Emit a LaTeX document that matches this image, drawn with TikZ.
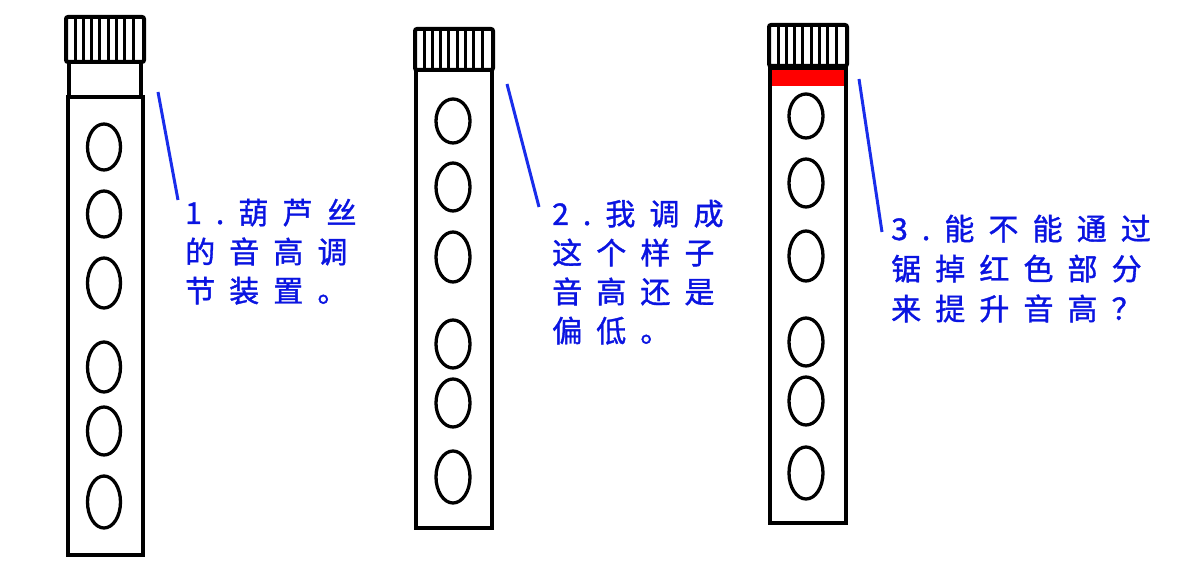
\documentclass[tikz,border=0pt]{standalone}
\usepackage{fontspec}
\newfontfamily\cjk[LetterSpace=47,FakeBold=1.2]{Noto Sans CJK SC}
\definecolor{txtblue}{RGB}{10,20,225}
\definecolor{lineblue}{RGB}{25,45,235}
\begin{document}
\begin{tikzpicture}[x=1pt,y=-1pt,
  outline/.style={line width=4pt,draw=black},
  capbox/.style={line width=4pt,draw=black,fill=white,rounded corners=2pt},
  stripe/.style={line width=3pt,draw=black},
  hole/.style={line width=3.3pt,draw=black},
  callout/.style={line width=3pt,draw=lineblue},
  label/.style={anchor=base west,inner sep=0pt,text=txtblue,font=\cjk\fontsize{30}{40}\selectfont}]
\useasboundingbox (0,0) rectangle (1200,569);
\fill[white] (0,0) rectangle (1200,569);

% ---------- tube 1 ----------
\draw[outline,fill=white] (68,97) rectangle (143,555);
\draw[outline,fill=white] (69,62) rectangle (141,97);
\draw[capbox] (66,17) rectangle (144,62);
\foreach \sx in {75,83.3,91.6,99.9,108.2,116.5,124.8,133.1} \draw[stripe] (\sx,19) -- (\sx,60);
\foreach \cy/\ry in {147/23,214/23,283/25,367/25,431/24,502/26} \draw[hole] (104,\cy) ellipse (16.5 and \ry);

% ---------- tube 2 ----------
\draw[outline,fill=white] (416,70) rectangle (492,528);
\draw[capbox] (415,29) rectangle (493,70);
\foreach \sx in {424,432.3,440.6,448.9,457.2,465.5,473.8,482.1} \draw[stripe] (\sx,31) -- (\sx,68);
\foreach \cy/\ry in {121/22,187/24,257/25,344/24,403/24,477/26} \draw[hole] (453,\cy) ellipse (17 and \ry);

% ---------- tube 3 ----------
\draw[outline,fill=white] (770,68) rectangle (846,523);
\fill[red] (770,68) rectangle (846,86);
\draw[outline] (770,68) rectangle (846,523);
\draw[capbox] (769,25) rectangle (847,66);
\foreach \sx in {778,786.3,794.6,802.9,811.2,819.5,827.8,836.1} \draw[stripe] (\sx,27) -- (\sx,64);
\foreach \cy/\ry in {116/22,183/24,256/25,342/24,401/24,473/26} \draw[hole] (806,\cy) ellipse (17 and \ry);

% ---------- callouts ----------
\coordinate (c1a) at (158,92);  \coordinate (c1b) at (178,200);
\coordinate (c2a) at (507,84);  \coordinate (c2b) at (539,207);
\coordinate (c3a) at (859,79);  \coordinate (c3b) at (882,232);
\draw[callout] (c1a) -- (c1b);
\draw[callout] (c2a) -- (c2b);
\draw[callout] (c3a) -- (c3b);

% ---------- labels ----------
\node[label] (t1a) at (185,224) {1.葫芦丝};
\node[label] (t1b) at (185,263) {的音高调};
\node[label] (t1c) at (185,302) {节装置。};

\node[label] (t2a) at (552,225) {2.我调成};
\node[label] (t2b) at (552,264) {这个样子};
\node[label] (t2c) at (552,303) {音高还是};
\node[label] (t2d) at (552,342) {偏低。};

\node[label] (t3a) at (891,240) {3.能不能通过};
\node[label] (t3b) at (891,280) {锯掉红色部分};
\node[label] (t3c) at (891,320) {来提升音高？};
\end{tikzpicture}
\end{document}
